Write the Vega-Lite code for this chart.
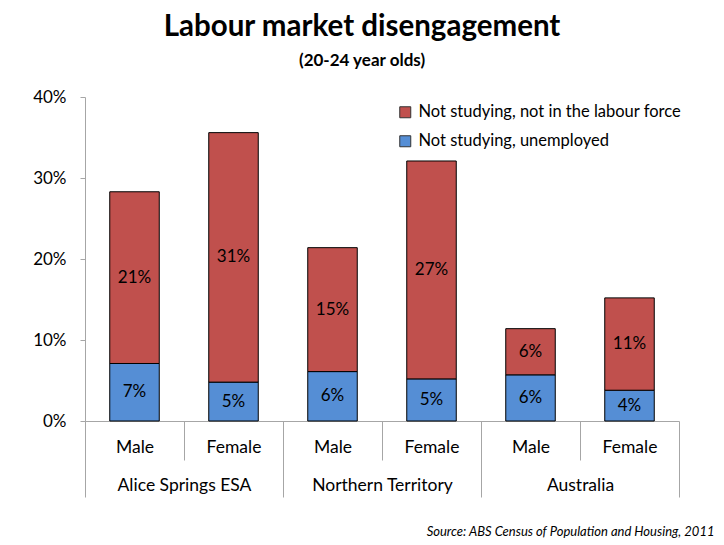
{
  "$schema": "https://vega.github.io/schema/vega-lite/v6.json",
  "width": 594,
  "height": 324,
  "autosize": {"type": "none"},
  "padding": {"left": 85, "top": 97, "right": 45, "bottom": 124},
  "background": "white",
  "config": {
    "font": "Lato",
    "view": {"stroke": null},
    "axis": {"domainColor": "#a6a6a6", "tickColor": "#a6a6a6", "labelColor": "black", "labelFont": "Lato"}
  },
  "title": {
    "text": "Labour market disengagement",
    "subtitle": "(20-24 year olds)",
    "fontSize": 29.5,
    "fontWeight": "bold",
    "color": "black",
    "subtitleFontSize": 17,
    "subtitleFontWeight": "bold",
    "subtitleColor": "black",
    "subtitlePadding": 11,
    "anchor": "middle",
    "frame": "group",
    "dx": -20,
    "offset": 18
  },
  "data": {
    "values": [
      {"region": "Alice Springs ESA", "sex": "Male", "bar": "Alice Springs ESA / Male", "series": "Not studying, unemployed", "value": 0.071},
      {"region": "Alice Springs ESA", "sex": "Male", "bar": "Alice Springs ESA / Male", "series": "Not studying, not in the labour force", "value": 0.212},
      {"region": "Alice Springs ESA", "sex": "Female", "bar": "Alice Springs ESA / Female", "series": "Not studying, unemployed", "value": 0.048},
      {"region": "Alice Springs ESA", "sex": "Female", "bar": "Alice Springs ESA / Female", "series": "Not studying, not in the labour force", "value": 0.308},
      {"region": "Northern Territory", "sex": "Male", "bar": "Northern Territory / Male", "series": "Not studying, unemployed", "value": 0.061},
      {"region": "Northern Territory", "sex": "Male", "bar": "Northern Territory / Male", "series": "Not studying, not in the labour force", "value": 0.153},
      {"region": "Northern Territory", "sex": "Female", "bar": "Northern Territory / Female", "series": "Not studying, unemployed", "value": 0.052},
      {"region": "Northern Territory", "sex": "Female", "bar": "Northern Territory / Female", "series": "Not studying, not in the labour force", "value": 0.269},
      {"region": "Australia", "sex": "Male", "bar": "Australia / Male", "series": "Not studying, unemployed", "value": 0.057},
      {"region": "Australia", "sex": "Male", "bar": "Australia / Male", "series": "Not studying, not in the labour force", "value": 0.057},
      {"region": "Australia", "sex": "Female", "bar": "Australia / Female", "series": "Not studying, unemployed", "value": 0.038},
      {"region": "Australia", "sex": "Female", "bar": "Australia / Female", "series": "Not studying, not in the labour force", "value": 0.114}
    ]
  },
  "layer": [
    {
      "mark": {"type": "bar", "stroke": "black", "strokeWidth": 1},
      "encoding": {
        "x": {
          "field": "bar",
          "type": "nominal",
          "sort": ["Alice Springs ESA / Male", "Alice Springs ESA / Female", "Northern Territory / Male", "Northern Territory / Female", "Australia / Male", "Australia / Female"],
          "scale": {"type": "band", "paddingInner": 0.5, "paddingOuter": 0.25},
          "axis": {
            "title": null,
            "labelExpr": "split(datum.label, ' / ')[1]",
            "labelAngle": 0,
            "labelFontSize": 17.5,
            "tickSize": 39,
            "tickOffset": -49.5,
            "labelOffset": 49.5,
            "labelPadding": -22,
            "orient": "bottom"
          }
        },
        "y": {
          "field": "value",
          "type": "quantitative",
          "stack": "zero",
          "scale": {"domain": [0, 0.4]},
          "axis": {
            "title": null,
            "values": [0, 0.1, 0.2, 0.3, 0.4],
            "format": ".0%",
            "grid": false,
            "tickSize": 5,
            "labelPadding": 14,
            "labelFontSize": 17
          }
        },
        "color": {
          "field": "series",
          "type": "nominal",
          "scale": {
            "domain": ["Not studying, not in the labour force", "Not studying, unemployed"],
            "range": ["#C0504D", "#558ED5"]
          },
          "legend": {
            "title": null,
            "orient": "none",
            "legendX": 312,
            "legendY": 7,
            "padding": 0,
            "symbolType": "square",
            "symbolSize": 121,
            "symbolStrokeColor": "#333333",
            "symbolStrokeWidth": 1,
            "labelFontSize": 16.5,
            "labelColor": "black",
            "labelOffset": 5,
            "rowPadding": 12,
            "labelLimit": 400
          }
        },
        "order": {"field": "series", "sort": "descending"}
      }
    },
    {
      "transform": [
        {"stack": "value", "groupby": ["region", "sex"], "sort": [{"field": "series", "order": "descending"}], "as": ["v0", "v1"]}
      ],
      "mark": {
        "type": "text",
        "fontSize": 17,
        "color": "black",
        "baseline": "middle",
        "dy": {"expr": "(scale('y', 0) - scale('y', datum.value)) / 2"}
      },
      "encoding": {
        "x": {
          "field": "region",
          "type": "nominal",
          "sort": ["Alice Springs ESA", "Northern Territory", "Australia"],
          "scale": {"type": "band", "paddingInner": 0, "paddingOuter": 0},
          "bandPosition": 0,
          "axis": {
            "orient": "bottom",
            "labelAngle": 0,
            "labelFontSize": 17.5,
            "domain": false,
            "tickBand": "extent",
            "tickSize": 76,
            "labelPadding": -21,
            "title": "Source: ABS Census of Population and Housing, 2011",
            "titleFontStyle": "italic",
            "titleFontWeight": "normal",
            "titleFontSize": 13,
            "titleColor": "black",
            "titleAnchor": "end",
            "titleAlign": "right",
            "titleBaseline": "alphabetic",
            "titleX": 629,
            "titleY": 114
          }
        },
        "xOffset": {
          "field": "sex",
          "type": "nominal",
          "sort": ["Male", "Female"],
          "scale": {"type": "point", "padding": 0.5}
        },
        "y": {"field": "v1", "type": "quantitative"},
        "text": {"field": "value", "type": "quantitative", "format": ".0%"}
      }
    }
  ],
  "resolve": {"scale": {"x": "independent", "xOffset": "independent"}, "axis": {"x": "independent"}}
}
